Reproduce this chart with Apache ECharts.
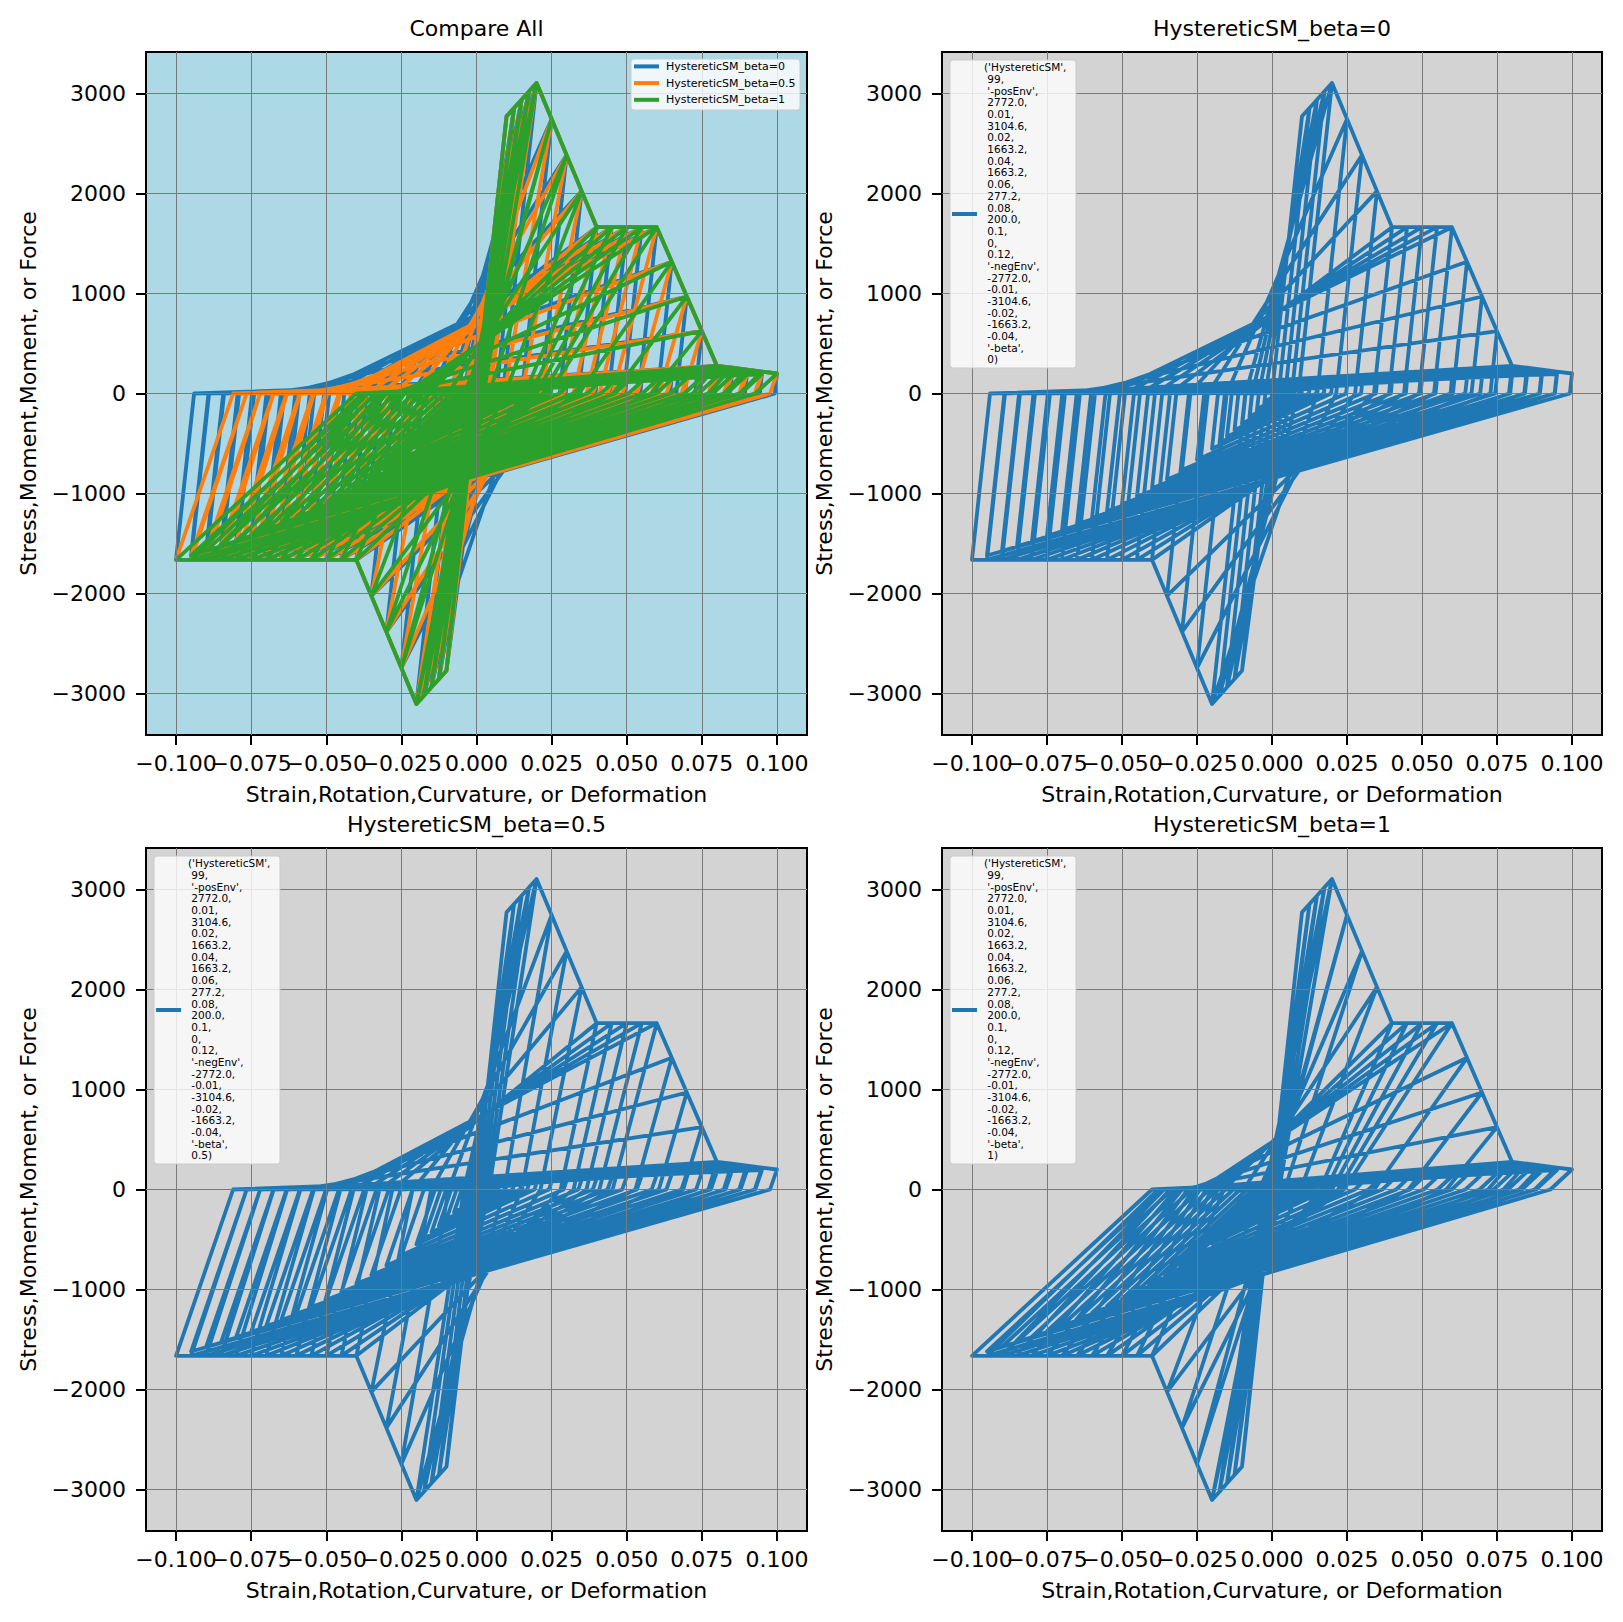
<!DOCTYPE html>
<html><head><meta charset="utf-8">
<script src="https://cdn.jsdelivr.net/npm/echarts@6.0.0/dist/echarts.min.js"></script>
<style>html,body{margin:0;padding:0;background:#fff}#c{width:1623px;height:1622px}</style>
</head><body><div id="c"></div><script>
// ---------------- data ----------------
const xTicks = [-0.1, -0.075, -0.05, -0.025, 0, 0.025, 0.05, 0.075, 0.1];
const xLabelsA = [-0.1, -0.05, 0, 0.05, 0.1];        // labelled on the main x axis
const xLabelsB = [-0.075, -0.025, 0.025, 0.075];     // labelled on the companion x axis
const yTicks = [-3000, -2000, -1000, 0, 1000, 2000, 3000];

const panelTitles = ['Compare All', 'HystereticSM_beta=0', 'HystereticSM_beta=0.5', 'HystereticSM_beta=1'];
const seriesNames = ['HystereticSM_beta=0', 'HystereticSM_beta=0.5', 'HystereticSM_beta=1'];
const betaLabels = ['0', '0.5', '1'];
const materialArgs = ["('HystereticSM',", " 99,", " '-posEnv',", " 2772.0,", " 0.01,", " 3104.6,", " 0.02,",
  " 1663.2,", " 0.04,", " 1663.2,", " 0.06,", " 277.2,", " 0.08,", " 200.0,", " 0.1,", " 0,", " 0.12,",
  " '-negEnv',", " -2772.0,", " -0.01,", " -3104.6,", " -0.02,", " -1663.2,", " -0.04,", " '-beta',"];

// first elastic excursion (yield point)
const yieldPoint = [0.01, 2772];

// growing cycles: peak strain and envelope stress reached at each peak
const riseAmp = [0.0125, 0.015, 0.0175, 0.02, 0.025, 0.03, 0.035, 0.04, 0.045, 0.05, 0.055, 0.06, 0.065, 0.07, 0.075, 0.08, 0.085, 0.09, 0.095, 0.1];
const risePosStress = [2855.2, 2938.3, 3021.5, 3104.6, 2744.3, 2383.9, 2023.6, 1663.2, 1663.2, 1663.2, 1663.2, 1663.2, 1316.7, 970.2, 623.7, 277.2, 257.9, 238.6, 219.3, 200.0];
const riseNegStress = [-2855.2, -2938.3, -3021.5, -3104.6, -2744.3, -2383.9, -2023.6, -1663.2, -1663.2, -1663.2, -1663.2, -1663.2, -1663.2, -1663.2, -1663.2, -1663.2, -1663.2, -1663.2, -1663.2, -1663.2];

// shrinking cycles: peak strains
const fallAmp = [0.095, 0.09, 0.085, 0.08, 0.075, 0.07, 0.065, 0.06, 0.055, 0.05, 0.045, 0.04, 0.035, 0.03, 0.025, 0.02, 0.0175, 0.015, 0.0125, 0.01, 0.0075, 0.005, 0.0025];

// beta = 0
const b0RiseZeroPos = [0.0022, 0.0044, 0.0066, 0.0088, 0.0151, 0.0214, 0.0277, 0.034, 0.039, 0.044, 0.049, 0.054, 0.0603, 0.0665, 0.0728, 0.079, 0.0841, 0.0891, 0.0942, 0.0993];
const b0RiseZeroNeg = [-0.0022, -0.0044, -0.0066, -0.0088, -0.0151, -0.0214, -0.0277, -0.034, -0.039, -0.044, -0.049, -0.054, -0.059, -0.064, -0.069, -0.074, -0.079, -0.084, -0.089, -0.094];
const b0FallPosStress = [194.8, 189.4, 183.7, 177.7, 171.4, 164.7, 157.6, 150.1, 142.1, 133.6, 124.7, 115.1, 104.8, 93.9, 82.1, 69.5, 60.2, 53.1, 45.7, 38.1, 30.1, 21.9, 13.2];
const b0FallZeroPos = [0.0943, 0.0893, 0.0843, 0.0794, 0.0744, 0.0694, 0.0644, 0.0595, 0.0545, 0.0495, 0.0446, 0.0396, 0.0346, 0.0297, 0.0247, 0.0197, 0.0173, 0.0148, 0.0123, 0.0099, 0.0074, 0.0049, 0.0025];
const b0FallNegStress = [-1620.4, -1575.3, -1527.8, -1477.8, -1424.8, -1368.7, -1309.1, -1246.1, -1178.8, -1106.9, -1030.6, -948.4, -860.0, -765.5, -662.9, -551.6, -493.4, -431.7, -367.3, -301.2, -230.7, -157.0, -81.1];
const b0FallZeroNeg = [-0.0892, -0.0843, -0.0795, -0.0747, -0.0699, -0.0651, -0.0603, -0.0555, -0.0507, -0.046, -0.0413, -0.0366, -0.0319, -0.0272, -0.0226, -0.018, -0.0157, -0.0134, -0.0112, -0.0089, -0.0067, -0.0044, -0.0022];

// beta = 0.5
const b05RiseZeroPos = [0.001, 0.002, 0.0031, 0.0042, 0.0093, 0.0151, 0.0213, 0.028, 0.0323, 0.0366, 0.0409, 0.0453, 0.0529, 0.0607, 0.0688, 0.0772, 0.0823, 0.0874, 0.0926, 0.0977];
const b05RiseZeroNeg = [-0.001, -0.002, -0.0031, -0.0042, -0.0093, -0.0151, -0.0213, -0.028, -0.0323, -0.0366, -0.0409, -0.0453, -0.0497, -0.0541, -0.0586, -0.063, -0.0675, -0.072, -0.0765, -0.081];
const b05FallPosStress = [194.5, 188.7, 182.6, 176.1, 169.4, 162.2, 154.7, 146.7, 138.3, 129.4, 119.9, 110.0, 99.4, 88.2, 76.3, 63.8, 55.0, 48.1, 41.1, 33.9, 26.5, 18.9, 11.0];
const b05FallZeroPos = [0.0928, 0.0879, 0.0829, 0.078, 0.0731, 0.0682, 0.0632, 0.0583, 0.0534, 0.0485, 0.0436, 0.0387, 0.0339, 0.029, 0.0241, 0.0193, 0.0169, 0.0145, 0.012, 0.0096, 0.0072, 0.0048, 0.0024];
const b05FallNegStress = [-1620.1, -1574.7, -1526.8, -1476.3, -1423.0, -1366.6, -1306.5, -1242.9, -1175.3, -1103.2, -1026.2, -943.7, -855.8, -760.7, -658.0, -547.9, -489.4, -428.5, -363.8, -297.4, -228.1, -155.5, -79.6];
const b05FallZeroNeg = [-0.0765, -0.072, -0.0676, -0.0632, -0.0588, -0.0544, -0.0501, -0.0458, -0.0416, -0.0374, -0.0333, -0.0292, -0.0252, -0.0213, -0.0175, -0.0138, -0.0119, -0.0101, -0.0084, -0.0066, -0.0049, -0.0032, -0.0016];

// beta = 1
const b1RiseZeroPos = [-0.0004, -0.0009, -0.0016, -0.0024, 0.0003, 0.0042, 0.0095, 0.016, 0.018, 0.02, 0.022, 0.024, 0.0341, 0.0455, 0.0581, 0.072, 0.0771, 0.0823, 0.0875, 0.0928];
const b1RiseZeroNeg = [0.0004, 0.0009, 0.0016, 0.0024, -0.0003, -0.0042, -0.0095, -0.016, -0.018, -0.02, -0.022, -0.024, -0.026, -0.028, -0.03, -0.032, -0.034, -0.036, -0.038, -0.04];
const b1FallPosStress = [192.9, 185.4, 177.5, 169.2, 160.6, 151.6, 142.1, 132.3, 122.1, 111.4, 100.5, 89.2, 77.7, 66.0, 54.2, 42.5, 35.8, 30.2, 24.6, 19.1, 13.9, 8.9, 3.8];
const b1FallZeroPos = [0.088, 0.0833, 0.0786, 0.0739, 0.0692, 0.0645, 0.0599, 0.0552, 0.0506, 0.046, 0.0414, 0.0368, 0.0322, 0.0276, 0.023, 0.0185, 0.0162, 0.0139, 0.0116, 0.0093, 0.007, 0.0047, 0.0024];
const b1FallNegStress = [-1619.0, -1572.5, -1523.5, -1471.9, -1417.5, -1359.9, -1299.1, -1234.5, -1166.2, -1093.6, -1016.3, -933.7, -845.4, -750.8, -649.0, -540.4, -482.4, -422.0, -359.2, -293.7, -225.4, -154.1, -79.6];
const b1FallZeroNeg = [-0.0366, -0.0333, -0.03, -0.0269, -0.0239, -0.0209, -0.0181, -0.0155, -0.0129, -0.0106, -0.0083, -0.0063, -0.0045, -0.0029, -0.0016, -0.0005, -0.0001, 0.0002, 0.0005, 0.0006, 0.0006, 0.0006, 0.0004];

// ---------------- build path tables ----------------
function buildPath(rzp, rzn, fps, fzp, fns, fzn) {
  const pts = [[0, 0], [yieldPoint[0], yieldPoint[1]], [-yieldPoint[0], -yieldPoint[1]], [0, 0]];
  let prevP = [yieldPoint[0], yieldPoint[1]], prevN = [-yieldPoint[0], -yieldPoint[1]];
  riseAmp.forEach((a, i) => {
    pts.push(prevP, [a, risePosStress[i]], [rzp[i], 0], prevN, [-a, riseNegStress[i]], [rzn[i], 0]);
    prevP = [a, risePosStress[i]];
    prevN = [-a, riseNegStress[i]];
  });
  fallAmp.forEach((a, i) => {
    pts.push([a, fps[i]], [fzp[i], 0], [-a, fns[i]], [fzn[i], 0]);
  });
  return pts;
}
const paths = [
  buildPath(b0RiseZeroPos, b0RiseZeroNeg, b0FallPosStress, b0FallZeroPos, b0FallNegStress, b0FallZeroNeg),
  buildPath(b05RiseZeroPos, b05RiseZeroNeg, b05FallPosStress, b05FallZeroPos, b05FallNegStress, b05FallZeroNeg),
  buildPath(b1RiseZeroPos, b1RiseZeroNeg, b1FallPosStress, b1FallZeroPos, b1FallNegStress, b1FallZeroNeg)
];

// ---------------- chart ----------------
const FONT = 'DejaVu Sans';
const colors = ['#1f77b4', '#ff7f0e', '#2ca02c'];
const grids = [
  {left: 146, top: 52, width: 661, height: 683},
  {left: 942, top: 52, width: 660, height: 683},
  {left: 146, top: 848, width: 661, height: 683},
  {left: 942, top: 848, width: 660, height: 683}
];
const bgColors = ['#add8e6', '#d3d3d3', '#d3d3d3', '#d3d3d3'];
const fmtX = v => (v < -1e-12 ? '\u2212' : '') + Math.abs(v).toFixed(3);
const fmtY = v => (v < 0 ? '\u2212' : '') + Math.abs(v);
const labelStyle = {formatter: fmtX, fontSize: 22, color: '#000', fontFamily: FONT, margin: 17,
  lineHeight: 22, showMinLabel: true, showMaxLabel: true, hideOverlap: false};

const mainX = grids.map((g, i) => ({
  gridIndex: i, type: 'value', min: -0.11, max: 0.11, position: 'bottom',
  axisLine: {show: false, onZero: false},
  axisTick: {show: true, inside: false, length: 10, customValues: xTicks, lineStyle: {color: '#000', width: 2}},
  axisLabel: Object.assign({customValues: xLabelsA}, labelStyle),
  splitLine: {show: false},
  name: 'Strain,Rotation,Curvature, or Deformation', nameLocation: 'middle', nameGap: 48,
  nameTextStyle: {fontSize: 22, color: '#000', fontFamily: FONT, lineHeight: 22}
}));
const companionX = grids.map((g, i) => ({
  gridIndex: i, type: 'value', min: -0.11, max: 0.11, position: 'bottom', offset: 0,
  axisLine: {show: false, onZero: false},
  axisTick: {show: false},
  axisLabel: Object.assign({customValues: xLabelsB}, labelStyle),
  splitLine: {show: false}
}));

const option = {
  animation: false,
  backgroundColor: '#ffffff',
  title: panelTitles.map((t, i) => ({
    text: t, left: grids[i].left + grids[i].width / 2, top: i < 2 ? 17 : 813, textAlign: 'center', padding: 0,
    textStyle: {fontSize: 22, fontWeight: 'normal', color: '#000', fontFamily: FONT, lineHeight: 22}
  })),
  grid: grids.map((g, i) => ({
    left: g.left, top: g.top, width: g.width, height: g.height, containLabel: false,
    show: true, backgroundColor: bgColors[i], borderColor: '#000', borderWidth: 2
  })),
  xAxis: mainX.concat(companionX),
  yAxis: grids.map((g, i) => ({
    gridIndex: i, type: 'value', min: -3415, max: 3415, position: 'left',
    axisLine: {show: false, onZero: false},
    axisTick: {show: true, inside: false, length: 10, customValues: yTicks, lineStyle: {color: '#000', width: 2}},
    axisLabel: {customValues: yTicks, formatter: fmtY, fontSize: 22, color: '#000', fontFamily: FONT, margin: 20,
      showMinLabel: true, showMaxLabel: true, hideOverlap: false},
    splitLine: {show: false},
    name: 'Stress,Moment,Moment, or Force', nameLocation: 'middle', nameGap: 107,
    nameTextStyle: {fontSize: 22, color: '#000', fontFamily: FONT, lineHeight: 22}
  })),
  series: [],
  graphic: {elements: []}
};

// grid lines (drawn under the data)
grids.forEach((g, i) => {
  option.series.push({
    type: 'line', xAxisIndex: i, yAxisIndex: i, data: [[0, 0]], showSymbol: false, silent: true, z: 1,
    lineStyle: {width: 0, opacity: 0},
    markLine: {
      silent: true, symbol: ['none', 'none'], label: {show: false}, animation: false, precision: 6,
      lineStyle: {color: '#7a7a7a', width: 1, type: 'solid'},
      data: xTicks.map(v => ({xAxis: v})).concat(yTicks.map(v => ({yAxis: v})))
    }
  });
});

function dataSeries(gi, k) {
  return {
    type: 'line', name: seriesNames[k], xAxisIndex: gi, yAxisIndex: gi, data: paths[k],
    showSymbol: false, symbol: 'none', silent: true, z: 2, clip: true,
    lineStyle: {color: colors[k], width: 3.8, join: 'round', cap: 'square'}
  };
}
// panel 1: all three
[0, 1, 2].forEach(k => option.series.push(dataSeries(0, k)));
// panels 2-4: single material each, drawn in the first colour
[0, 1, 2].forEach(k => {
  const s = dataSeries(k + 1, k);
  s.lineStyle.color = colors[0];
  option.series.push(s);
});

// legend of panel 1
const G = option.graphic.elements;
G.push({type: 'rect', z: 100, shape: {x: 631, y: 59, width: 169, height: 51, r: 3},
  style: {fill: 'rgba(255,255,255,0.8)', stroke: '#cccccc', lineWidth: 1}});
seriesNames.forEach((n, k) => {
  const y = 66.4 + 16.7 * k;
  G.push({type: 'line', z: 101, shape: {x1: 634, y1: y, x2: 659, y2: y}, style: {stroke: colors[k], lineWidth: 4}});
  G.push({type: 'text', z: 101, style: {text: n, x: 666, y: y, fill: '#000', font: '11px "DejaVu Sans"', verticalAlign: 'middle', align: 'left'}});
});
// legends of panels 2-4
[1, 2, 3].forEach(gi => {
  const g = grids[gi];
  const lines = materialArgs.concat([' ' + betaLabels[gi - 1] + ')']).map(s => s.replace(/^ /, '\u00a0'));
  G.push({type: 'rect', z: 100, shape: {x: g.left + 8, y: g.top + 8, width: 126, height: 308, r: 3},
    style: {fill: 'rgba(255,255,255,0.8)', stroke: '#cccccc', lineWidth: 1}});
  G.push({type: 'line', z: 101, shape: {x1: g.left + 10, y1: g.top + 162, x2: g.left + 35, y2: g.top + 162},
    style: {stroke: colors[0], lineWidth: 4}});
  G.push({type: 'text', z: 101, style: {text: lines.join('\n'), x: g.left + 42, y: g.top + 9.5, fill: '#000',
    font: '10.5px "DejaVu Sans"', lineHeight: 11.68, verticalAlign: 'top', align: 'left'}});
});

const chart = echarts.init(document.getElementById('c'), null, {renderer: 'svg', width: 1623, height: 1622});
chart.setOption(option);
</script></body></html>
